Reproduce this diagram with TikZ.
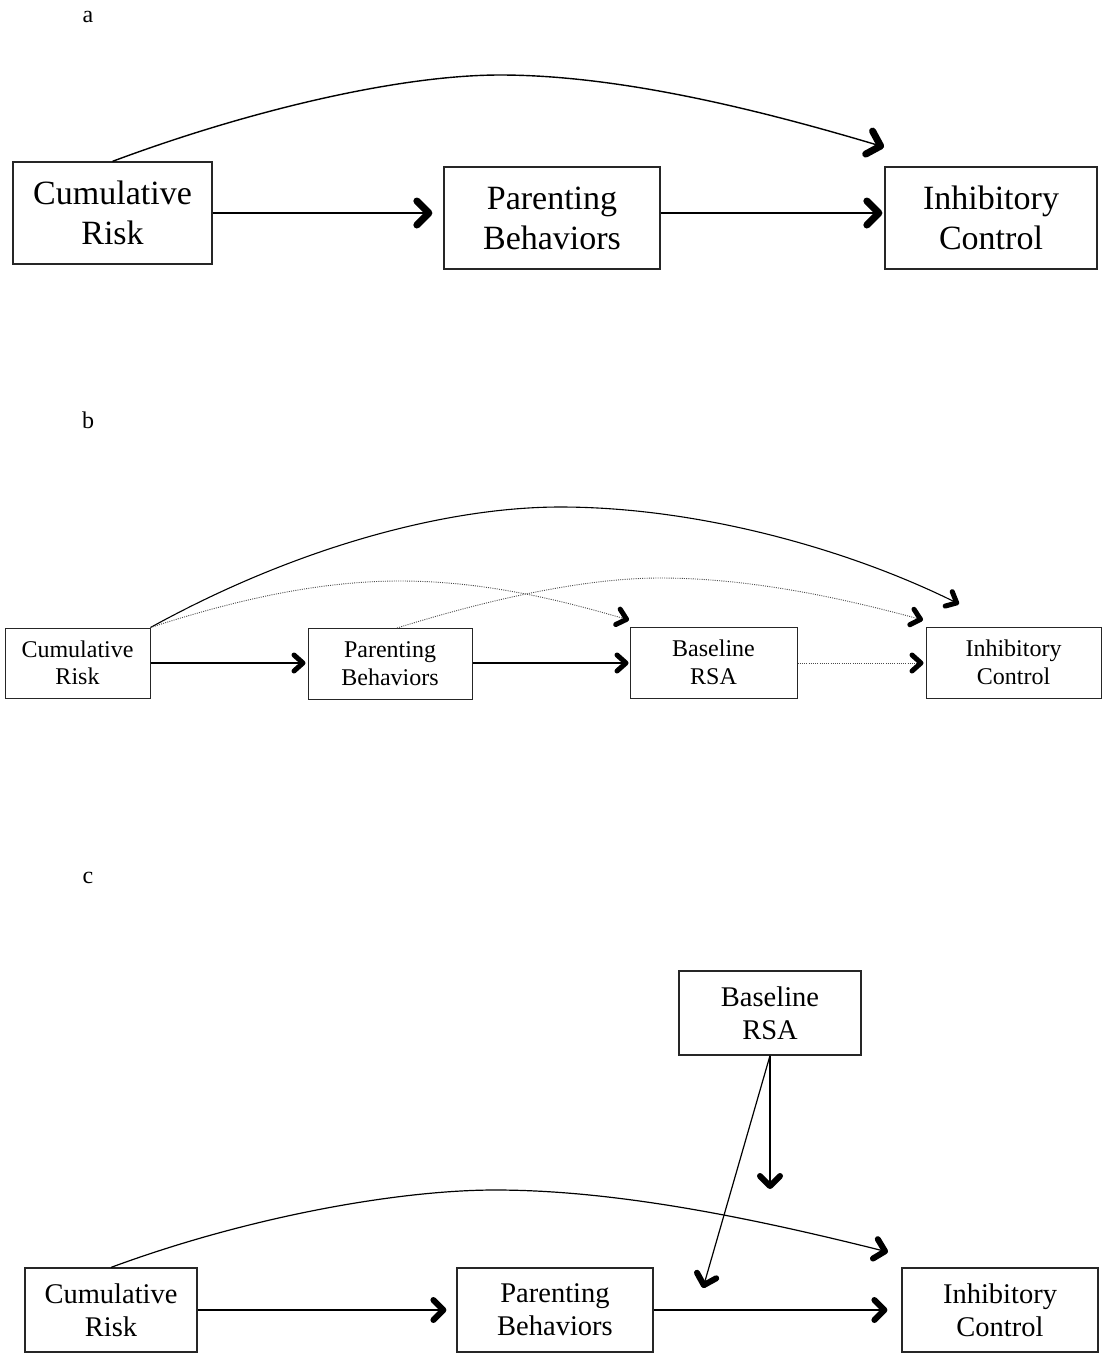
\documentclass[tikz,border=0pt]{standalone}
\usepackage{fontspec}
\setmainfont{Liberation Serif}
\usetikzlibrary{arrows.meta,calc}
\begin{document}
\begin{tikzpicture}[x=1pt,y=-1pt,
  boxa/.style={draw=black!85,line width=1.3pt,align=center,inner sep=0pt,font=\fontsize{34}{40}\selectfont},
  boxb/.style={draw=black!85,line width=1pt,align=center,inner sep=0pt,font=\fontsize{24}{27.5}\selectfont},
  boxc/.style={draw=black!85,line width=1.2pt,align=center,inner sep=0pt,font=\fontsize{28.5}{33}\selectfont},
  arra/.style={line width=1.4pt,-{Straight Barb[length=12pt,width=24pt,line width=7pt 0 1,round]}},
  arrb/.style={line width=1.1pt,-{Straight Barb[length=9pt,width=16pt,line width=5pt 0 1,round]}},
  arrc/.style={line width=1.2pt,-{Straight Barb[length=10pt,width=20pt,line width=6pt 0 1,round]}},
  dotb/.style={line width=0.9pt,black!70,dash pattern=on 1pt off 1.2pt,-{Straight Barb[length=9pt,width=16pt,line width=5pt 0 1,round,color=black]}},
  lbl/.style={font=\fontsize{24}{28}\selectfont,inner sep=0pt}]
\useasboundingbox (0,0) rectangle (1102,1353);
% panel labels
\node[lbl] (la) at (88,17) {a};
\node[lbl] (lb) at (88,420) {b};
\node[lbl] (lc) at (88,878) {c};
% ---------- panel a
\node[boxa,minimum width=199,minimum height=102] (aCR) at (112.5,213) {Cumulative\\Risk};
\node[boxa,minimum width=216,minimum height=102] (aPB) at (552,218) {Parenting\\Behaviors};
\node[boxa,minimum width=212,minimum height=102] (aIC) at (991,218) {Inhibitory\\Control};
\coordinate (aT) at (884,147);
\draw[arra,shorten >=11pt] (aCR.east) -- (aCR.east -| aPB.west);
\draw[arra,shorten >=2pt] (aPB.east |- aCR.east) -- (aCR.east -| aIC.west);
\draw[arra] (aCR.north) .. controls (250,110) and (400,75) .. (500,75) .. controls (620,75) and (760,110) .. (aT);
% ---------- panel b
\node[boxb,minimum width=145,minimum height=70] (bCR) at (77.5,663) {Cumulative\\Risk};
\node[boxb,minimum width=164,minimum height=71] (bPB) at (390,663.5) {Parenting\\Behaviors};
\node[boxb,minimum width=167,minimum height=71] (bBR) at (713.5,662.5) {Baseline\\RSA};
\node[boxb,minimum width=175,minimum height=71] (bIC) at (1013.5,662.5) {Inhibitory\\Control};
\coordinate (bT1) at (959,604);
\coordinate (bT2) at (629,620);
\coordinate (bT3) at (923,620);
\coordinate (bS3) at (397,628);
\draw[arrb,shorten >=2pt] (bCR.east) -- (bCR.east -| bPB.west);
\draw[arrb,shorten >=1pt] (bPB.east |- bCR.east) -- (bCR.east -| bBR.west);
\draw[dotb,shorten >=2pt] (bBR.east |- bCR.east) -- (bCR.east -| bIC.west);
\draw[arrb] (bCR.north east) .. controls (300,545) and (450,507) .. (560,507) .. controls (700,507) and (850,550) .. (bT1);
\draw[dotb] (bCR.north east) .. controls (250,595) and (330,581) .. (400,581) .. controls (490,581) and (570,603) .. (bT2);
\draw[dotb] (bS3) .. controls (480,602) and (580,578) .. (660,578) .. controls (760,578) and (860,603) .. (bT3);
% ---------- panel c
\node[boxc,minimum width=182,minimum height=84] (cBR) at (770,1013) {Baseline\\RSA};
\node[boxc,minimum width=172,minimum height=84] (cCR) at (111,1310) {Cumulative\\Risk};
\node[boxc,minimum width=196,minimum height=84] (cPB) at (555,1310) {Parenting\\Behaviors};
\node[boxc,minimum width=196,minimum height=84] (cIC) at (1000,1310) {Inhibitory\\Control};
\coordinate (cT1) at (888,1252);
\coordinate (cT2) at (770,1189);
\coordinate (cT3) at (703,1288);
\draw[arrc,shorten >=10pt] (cCR.east) -- (cPB.west);
\draw[arrc,shorten >=14pt] (cPB.east) -- (cIC.west);
\draw[arrc] (cCR.north) .. controls (250,1216) and (400,1190) .. (495,1190) .. controls (620,1190) and (760,1220) .. (cT1);
\draw[arrc] (cBR.south) -- (cT2);
\draw[arrc] (cBR.south) -- (cT3);
\end{tikzpicture}
\end{document}
